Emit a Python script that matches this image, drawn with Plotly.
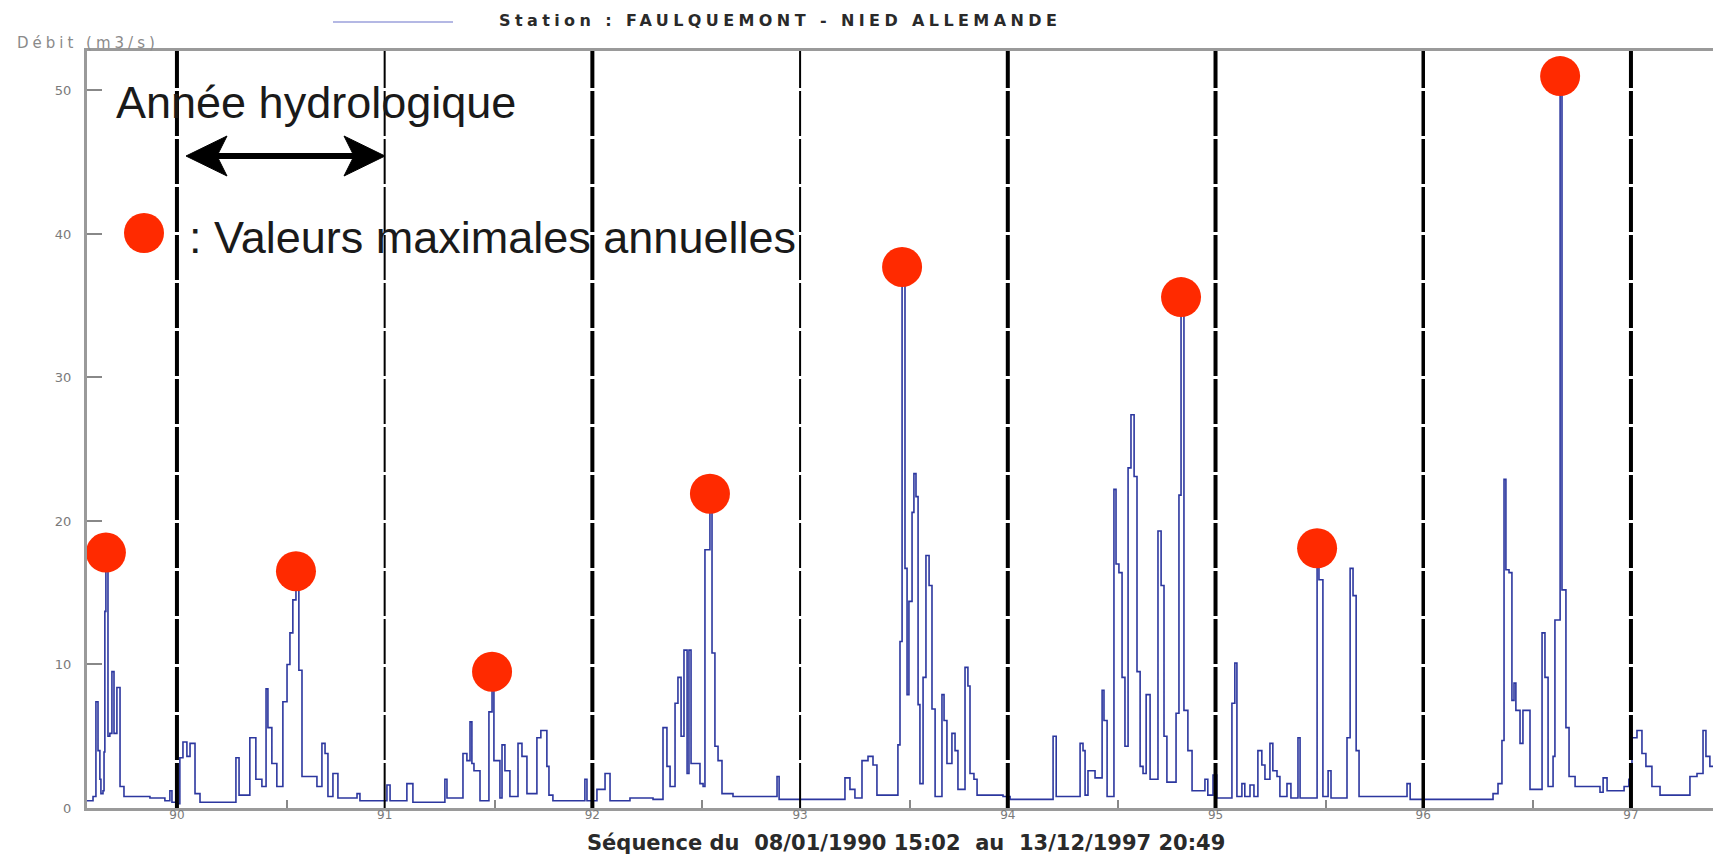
import numpy as np
import plotly.graph_objects as go

# Débits de la Nied Allemande à Faulquemont (m3/s), temps en années décimales
t = [
    # 1989-1990
    1989.567, 1989.596, 1989.610, 1989.620, 1989.629, 1989.634, 1989.644, 1989.649, 1989.653, 1989.658,
    1989.668, 1989.677, 1989.687, 1989.697, 1989.711, 1989.726, 1989.745, 1989.870, 1989.942, 1989.966, 1989.976,
    # 1990
    1990.000, 1990.014, 1990.029, 1990.048, 1990.063, 1990.087, 1990.111, 1990.270, 1990.284, 1990.299,
    1990.351, 1990.380, 1990.409, 1990.429, 1990.438, 1990.457, 1990.481, 1990.510, 1990.530, 1990.544,
    1990.558, 1990.573, 1990.587, 1990.602, 1990.674, 1990.698, 1990.713, 1990.727, 1990.751, 1990.775,
    1990.867, 1990.881,
    # 1991
    1991.011, 1991.026, 1991.107, 1991.136, 1991.290, 1991.300, 1991.377, 1991.396, 1991.411, 1991.420,
    1991.430, 1991.459, 1991.502, 1991.517, 1991.526, 1991.555, 1991.565, 1991.579, 1991.603, 1991.642,
    1991.661, 1991.685, 1991.733, 1991.752, 1991.781, 1991.791, 1991.810, 1991.964, 1991.974,
    # 1992
    1992.022, 1992.061, 1992.085, 1992.181, 1992.292, 1992.340, 1992.359, 1992.374, 1992.398, 1992.412,
    1992.427, 1992.441, 1992.456, 1992.465, 1992.475, 1992.518, 1992.533, 1992.542, 1992.566, 1992.576,
    1992.590, 1992.605, 1992.624, 1992.677, 1992.889, 1992.899,
    # 1993
    1993.010, 1993.216, 1993.240, 1993.264, 1993.298, 1993.327, 1993.351, 1993.370, 1993.471, 1993.481,
    1993.491, 1993.505, 1993.515, 1993.524, 1993.539, 1993.548, 1993.558, 1993.568, 1993.577, 1993.592,
    1993.606, 1993.621, 1993.635, 1993.650, 1993.683, 1993.693, 1993.707, 1993.731, 1993.746, 1993.760,
    1993.794, 1993.808, 1993.818, 1993.837, 1993.852, 1993.977,
    # 1994
    1994.011, 1994.218, 1994.233, 1994.348, 1994.362, 1994.372, 1994.386, 1994.420, 1994.454, 1994.463,
    1994.478, 1994.511, 1994.521, 1994.535, 1994.550, 1994.564, 1994.579, 1994.593, 1994.608, 1994.622,
    1994.637, 1994.651, 1994.666, 1994.685, 1994.723, 1994.738, 1994.752, 1994.766, 1994.810, 1994.824,
    1994.834, 1994.848, 1994.867, 1994.887, 1994.949, 1994.963, 1994.988,
    # 1995
    1995.006, 1995.079, 1995.093, 1995.103, 1995.127, 1995.141, 1995.166, 1995.185, 1995.204, 1995.223,
    1995.238, 1995.262, 1995.276, 1995.296, 1995.310, 1995.344, 1995.363, 1995.397, 1995.407, 1995.489,
    1995.498, 1995.517, 1995.542, 1995.556, 1995.633, 1995.648, 1995.662, 1995.677, 1995.691, 1995.922,
    1995.937,
    # 1996
    1996.009, 1996.336, 1996.360, 1996.379, 1996.389, 1996.398, 1996.413, 1996.427, 1996.437, 1996.446,
    1996.466, 1996.480, 1996.514, 1996.572, 1996.586, 1996.601, 1996.625, 1996.634, 1996.659, 1996.668,
    1996.687, 1996.702, 1996.731, 1996.851, 1996.866, 1996.885, 1996.967, 1996.990,
    # 1997
    1997.005, 1997.029, 1997.053, 1997.072, 1997.101, 1997.140, 1997.284, 1997.318, 1997.347, 1997.361,
    1997.380, 1997.409,
]

q = [
    # 1989-1990
    0.5, 0.8, 7.4, 4.0, 2.0, 1.0, 1.2, 3.9, 13.7, 17.8,
    5.0, 5.2, 9.5, 5.2, 8.4, 1.5, 0.8, 0.7, 0.5, 1.2, 0.4,
    # 1990
    0.3, 3.5, 4.6, 3.6, 4.5, 1.0, 0.4, 0.4, 3.5, 0.9,
    4.9, 2.0, 1.5, 8.3, 5.6, 3.1, 1.5, 7.4, 10.0, 12.2,
    14.5, 16.5, 9.6, 2.2, 1.5, 4.5, 3.8, 0.8, 2.4, 0.7,
    1.0, 0.5,
    # 1991
    1.6, 0.5, 1.7, 0.4, 2.0, 0.7, 3.8, 3.3, 6.0, 3.1,
    2.6, 0.5, 6.7, 9.5, 3.3, 0.7, 4.4, 2.6, 0.8, 4.5,
    3.6, 1.0, 4.9, 5.4, 2.9, 0.9, 0.5, 2.0, 0.5,
    # 1992
    1.3, 2.4, 0.5, 0.7, 0.6, 5.6, 2.9, 1.5, 7.3, 9.1,
    5.0, 11.0, 2.4, 11.0, 3.1, 1.7, 1.5, 18.0, 21.9, 10.8,
    4.3, 3.3, 1.0, 0.8, 2.2, 0.6,
    # 1993
    0.6, 2.1, 1.3, 0.7, 3.3, 3.6, 3.0, 0.9, 4.4, 11.6,
    37.7, 16.7, 7.9, 14.4, 20.6, 23.3, 21.7, 7.2, 1.7, 9.1,
    17.6, 15.5, 6.9, 0.8, 7.9, 6.1, 3.1, 5.2, 4.0, 1.3,
    9.8, 8.5, 2.4, 2.0, 0.9, 0.8,
    # 1994
    0.6, 5.0, 0.8, 4.5, 4.0, 0.9, 2.6, 2.1, 8.2, 6.1,
    0.8, 22.2, 17.0, 16.4, 9.1, 4.3, 23.7, 27.4, 23.1, 9.5,
    2.9, 2.4, 7.9, 2.0, 19.3, 15.5, 5.0, 1.8, 6.6, 21.8,
    35.6, 6.8, 4.0, 1.2, 2.0, 0.9, 2.3,
    # 1995
    0.7, 7.3, 10.1, 0.8, 1.7, 0.8, 1.6, 0.8, 4.0, 3.0,
    2.0, 4.5, 2.6, 2.2, 0.8, 1.7, 0.7, 4.9, 0.7, 18.1,
    15.9, 0.8, 2.6, 0.7, 4.9, 16.7, 14.8, 4.0, 0.8, 1.7,
    0.6,
    # 1996
    0.6, 1.0, 1.7, 4.7, 22.9, 16.6, 16.4, 7.5, 8.7, 6.8,
    4.5, 6.8, 1.3, 12.2, 9.1, 1.5, 3.6, 13.1, 51.0, 15.2,
    5.6, 2.2, 1.5, 1.1, 2.1, 1.2, 1.5, 2.0,
    # 1997
    4.9, 5.4, 3.8, 2.9, 1.5, 0.9, 2.2, 2.4, 5.4, 3.6,
    2.9, 2.9,
]

# Début des années hydrologiques et libellés de l'axe des temps
annees = [1990, 1991, 1992, 1993, 1994, 1995, 1996, 1997]
libelles_annees = ["90", "91", "92", "93", "94", "95", "96", "97"]
graduations_y = [0, 10, 20, 30, 40, 50]

# Epaisseur des traits séparant les années hydrologiques
epaisseurs_traits = [4, 2, 4, 2, 4, 4, 3.5, 4]

ROUGE = "#ff2a00"
GRIS = "#9a9a9a"

# Maxima annuels calculés sur chaque année hydrologique
t_arr = np.array(t)
q_arr = np.array(q)
limites = [t[0]] + annees
t_max, q_max = [], []
for a, b in zip(limites[:-1], limites[1:]):
    m = (t_arr >= a) & (t_arr < b)
    i = int(np.argmax(q_arr[m]))
    t_max.append(float(t_arr[m][i]))
    q_max.append(float(q_arr[m][i]))

fig = go.Figure()
fig.add_trace(go.Scatter(
    x=t, y=q, mode="lines",
    line=dict(color="#2c379f", width=1.6, shape="hv"),
    hoverinfo="skip", showlegend=False,
))
fig.add_trace(go.Scatter(
    x=t_max, y=q_max, mode="markers",
    marker=dict(size=40, color=ROUGE, line=dict(width=0)),
    cliponaxis=False, showlegend=False,
))

# Traits verticaux en début d'année hydrologique
for a, w in zip(annees, epaisseurs_traits):
    fig.add_shape(type="line", xref="x", yref="paper", x0=a, x1=a, y0=0, y1=1,
                  line=dict(color="black", width=w, dash="45px,3px"))

# Positions en coordonnées papier (zone de tracé : 1626 x 757 px)
def px(x):
    return (x - 87) / 1626.0

def py(y):
    return (808 - y) / 757.0

# Double flèche "Année hydrologique"
fig.add_shape(type="line", xref="paper", yref="paper",
              x0=px(214), x1=px(357), y0=py(156), y1=py(156),
              line=dict(color="black", width=6))
for tip, back, notch in [(186, 227, 217), (385, 344, 354)]:
    fig.add_shape(
        type="path", xref="paper", yref="paper",
        path=(f"M {px(tip)},{py(156)} L {px(back)},{py(136)} "
              f"L {px(notch)},{py(156)} L {px(back)},{py(176)} Z"),
        fillcolor="black", line=dict(color="black", width=1),
    )

# Pastille de la légende des maxima
fig.add_shape(type="circle", xref="paper", yref="paper",
              xsizemode="pixel", ysizemode="pixel",
              xanchor=px(144), yanchor=py(233),
              x0=-20, x1=20, y0=-20, y1=20,
              fillcolor=ROUGE, line=dict(width=0))

# Trait de légende de la série
fig.add_shape(type="line", xref="paper", yref="paper",
              x0=px(333), x1=px(453), y0=py(22), y1=py(22),
              line=dict(color="#b4b8e4", width=2))

annotations = [
    dict(text="Année hydrologique", x=px(114), y=py(103),
         font=dict(family="Liberation Sans, Arial", size=45, color="#1a1a1a")),
    dict(text=": Valeurs maximales annuelles", x=px(187), y=py(237),
         font=dict(family="Liberation Sans, Arial", size=45, color="#1a1a1a")),
    dict(text='<span style="letter-spacing:4.4px">Station : FAULQUEMONT - NIED ALLEMANDE</span>',
         x=px(497), y=py(21),
         font=dict(family="DejaVu Sans", size=16, color="#2a2a2a", weight="bold")),
    dict(text='<span style="letter-spacing:4px">Débit (m3/s)</span>', x=px(15), y=py(43),
         font=dict(family="DejaVu Sans", size=15, color="#8a8a8a")),
    dict(text="Séquence du  08/01/1990 15:02  au  13/12/1997 20:49",
         x=px(585), y=py(843),
         font=dict(family="DejaVu Sans", size=21, color="#2a2a2a", weight="bold")),
]
for a in annotations:
    a.update(xref="paper", yref="paper", xanchor="left", yanchor="middle",
             showarrow=False)
fig.update_layout(annotations=annotations)

fig.update_xaxes(
    range=[1989.567, 1997.395],
    tickmode="array", tickvals=annees, ticktext=libelles_annees, ticks="",
    tickfont=dict(family="DejaVu Sans", size=12, color="#7a7a7a"),
    ticklabelstandoff=-6,
    minor=dict(tickmode="array", tickvals=[a - 0.47 for a in annees] + [1997.53],
               ticks="inside", ticklen=8, tickwidth=1.5, tickcolor="#888888"),
    showgrid=False, zeroline=False,
    showline=True, linecolor=GRIS, linewidth=3, mirror=True,
)
fig.update_yaxes(
    range=[0, 52.75],
    tickmode="array", tickvals=graduations_y,
    ticks="inside", ticklen=15, tickwidth=1.5, tickcolor="#888888",
    tickfont=dict(family="DejaVu Sans", size=13, color="#7a7a7a"),
    ticklabelstandoff=10,
    showgrid=False, zeroline=False,
    showline=True, linecolor=GRIS, linewidth=3,
)
fig.update_layout(
    width=1713, height=855,
    margin=dict(l=87, r=0, t=51, b=47),
    paper_bgcolor="white", plot_bgcolor="white",
    font=dict(family="Liberation Sans, Arial"),
    showlegend=False,
)

fig.write_html("out.html")
